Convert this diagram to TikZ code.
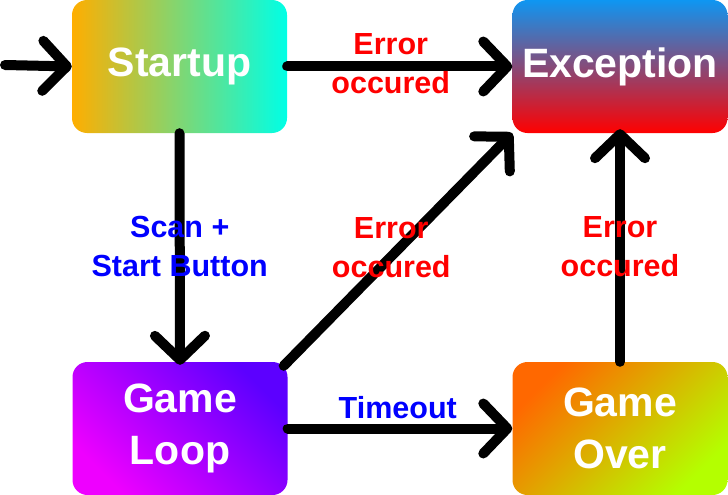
\documentclass[tikz,border=0pt]{standalone}
\usepackage{fontspec}
\setmainfont{Liberation Sans}
\usetikzlibrary{arrows.meta,calc}
\definecolor{suL}{RGB}{255,174,0}
\definecolor{suR}{RGB}{0,255,230}
\definecolor{exT}{RGB}{14,150,242}
\definecolor{exB}{RGB}{255,0,0}
\definecolor{glA}{RGB}{238,0,255}
\definecolor{glB}{RGB}{92,0,255}
\definecolor{goA}{RGB}{255,104,0}
\definecolor{goB}{RGB}{180,255,0}
\definecolor{lblred}{RGB}{255,0,0}
\definecolor{lblblue}{RGB}{0,0,255}
\tikzset{
  statebox/.style={rectangle, rounded corners=15pt, minimum width=215pt, minimum height=133pt,
    inner sep=0pt, text=white, align=center, font=\fontsize{41}{52}\selectfont\bfseries},
  conn/.style={line width=10pt, line cap=round, line join=round,
    -{Straight Barb[length=24pt,width=50pt,round]}},
  lbl/.style={align=center, inner sep=0pt, font=\fontsize{30.5}{39}\selectfont\bfseries},
  errlbl/.style={lbl, text=lblred},
  bluelbl/.style={lbl, text=lblblue}
}
\begin{document}
\begin{tikzpicture}[x=1pt,y=-1pt]
\useasboundingbox (0,0) rectangle (728,495);
\node[statebox, left color=suL, right color=suR] (su) at (179.5,66.5) {Startup};
\node[statebox, top color=exT, bottom color=exB] (ex) at (620,66.5) {Exception};
\node[statebox, top color=glB, bottom color=glA, shading angle=-45] (gl) at (180,428.5) {Game\\Loop};
\node[statebox, top color=goA, bottom color=goB, shading angle=45] (go) at (620,428.5) {Game\\Over};
\coordinate (entry) at (5,65);
\coordinate (dstart) at ($(gl.north east)+(-4,4)$);
\draw[conn] (entry) -- (su.west);
\draw[conn] (su.east) -- (ex.west);
\draw[conn, shorten >=-3pt] (su.south) -- (gl.north);
\draw[conn] (dstart) -- (ex.south west);
\draw[conn] (gl.east) -- (go.west);
\draw[conn, shorten >=-4pt] (go.north) -- (ex.south);
\path (su.east) -- (ex.west) node[errlbl, pos=0.46, yshift=2.5pt] {Error\\occured};
\path (su.south) -- (gl.north) node[bluelbl, midway, yshift=1pt] {Scan +\\Start Button};
\path (dstart) -- (ex.south west) node[errlbl, pos=0.51, xshift=-9pt] {Error\\occured};
\path (gl.east) -- (go.west) node[bluelbl, pos=0.49, yshift=21pt] {Timeout};
\path (go.north) -- (ex.south) node[errlbl, midway, yshift=1pt] {Error\\occured};
\end{tikzpicture}
\end{document}
